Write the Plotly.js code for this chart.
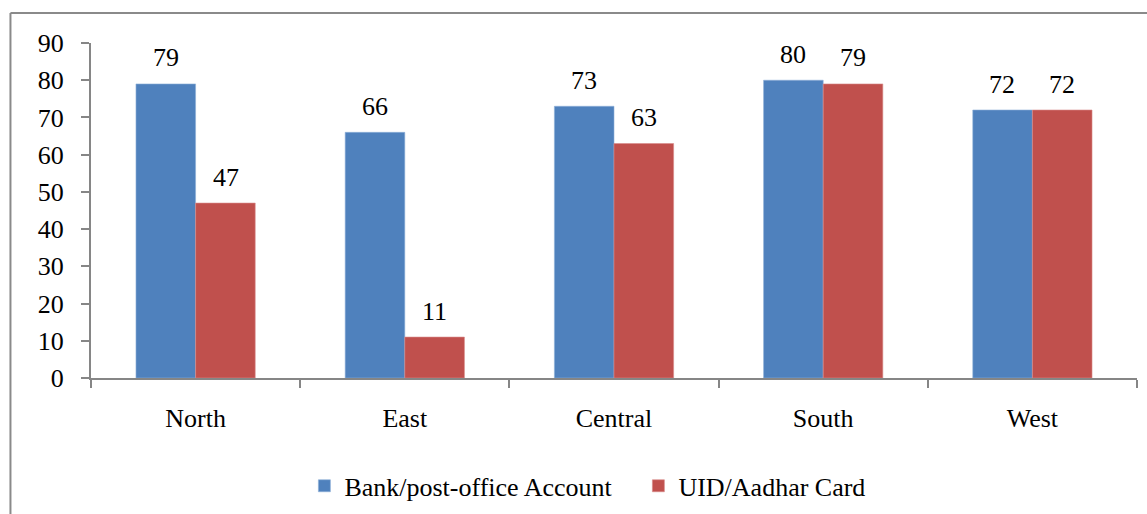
<!DOCTYPE html>
<html>
<head>
<meta charset="utf-8">
<script src="https://cdn.plot.ly/plotly-3.0.1.min.js"></script>
<style>html,body{margin:0;padding:0;background:#fff;}#chart{width:1147px;height:514px;}</style>
</head>
<body>
<div id="chart"></div>
<script>
const regions = ["North", "East", "Central", "South", "West"];
const bankAccount = [79, 66, 73, 80, 72];
const aadharCard = [47, 11, 63, 79, 72];
const seriesNames = ["Bank/post-office Account", "UID/Aadhar Card"];
const yTicks = [0, 10, 20, 30, 40, 50, 60, 70, 80, 90];

const FONT = "'Liberation Serif', 'Times New Roman', serif";
const AX = "#868686";

const traces = [
  {type: "bar", name: seriesNames[0], x: regions, y: bankAccount,
   marker: {color: "#4F81BD", line: {color: "#8FB0D8", width: 0.6}}, hoverinfo: "none"},
  {type: "bar", name: seriesNames[1], x: regions, y: aadharCard,
   marker: {color: "#C0504D", line: {color: "#D98C8A", width: 0.6}}, hoverinfo: "none"}
];

const annotations = [];
[bankAccount, aadharCard].forEach((vals, si) => {
  vals.forEach((v, i) => {
    annotations.push({x: regions[i], y: v, xref: "x", yref: "y", text: String(v),
      showarrow: false, yanchor: "middle", yshift: 26, xshift: si === 0 ? -30 : 30,
      font: {family: FONT, size: 26, color: "#000"}});
  });
});

const layout = {
  width: 1147, height: 514,
  margin: {l: 91, r: 10, t: 43, b: 136, autoexpand: false},
  paper_bgcolor: "#fff", plot_bgcolor: "#fff",
  barmode: "group", bargap: 0.43, bargroupgap: 0,
  font: {family: FONT, size: 26, color: "#000"},
  xaxis: {type: "category", showline: true, linecolor: AX, linewidth: 2,
    ticks: "outside", tickson: "boundaries", ticklen: 8, tickcolor: AX, tickwidth: 2,
    showgrid: false, zeroline: false, ticklabelstandoff: 16, automargin: false,
    tickfont: {family: FONT, size: 26, color: "#000"}},
  yaxis: {range: [0, 90], tickvals: yTicks, showline: true, linecolor: AX, linewidth: 2,
    ticks: "outside", ticklen: 8, tickcolor: AX, tickwidth: 2, automargin: false,
    showgrid: false, zeroline: false, ticklabelstandoff: 12,
    tickfont: {family: FONT, size: 26, color: "#000"}},
  showlegend: true,
  legend: {orientation: "h", x: 0.204, xanchor: "left", y: -0.322, yanchor: "middle",
    entrywidth: 289, entrywidthmode: "pixels",
    font: {family: FONT, size: 26, color: "#000"}, bgcolor: "rgba(0,0,0,0)",
    traceorder: "normal", itemclick: false},
  annotations: annotations,
  shapes: [
    {type: "line", xref: "paper", yref: "paper", x0: -0.077, x1: -0.077, y0: -0.6, y1: 1.0896,
     line: {color: "#8a8a8a", width: 2}},
    {type: "line", xref: "paper", yref: "paper", x0: -0.077, x1: 1.2, y0: 1.0896, y1: 1.0896,
     line: {color: "#8a8a8a", width: 2}}
  ]
};

Plotly.newPlot("chart", traces, layout, {staticPlot: true, displayModeBar: false});
</script>
</body>
</html>
